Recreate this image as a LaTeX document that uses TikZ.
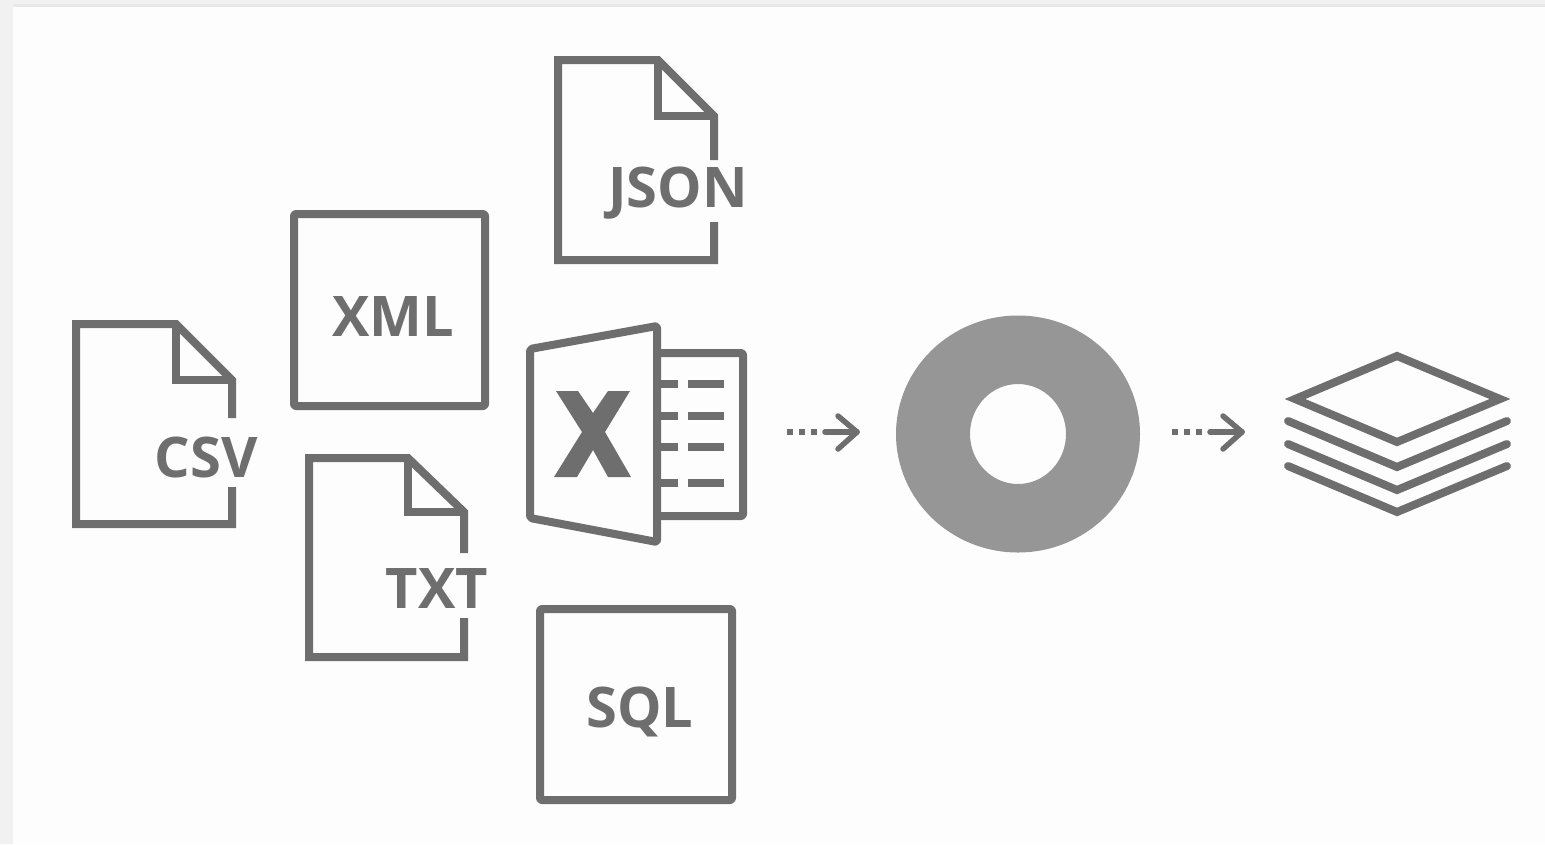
\documentclass[tikz,border=0pt]{standalone}
\usepackage{fontspec}
\setmainfont{Open Sans}
\definecolor{ink}{HTML}{6E6E6E}
\definecolor{ring}{HTML}{969696}
\definecolor{paper}{HTML}{FDFDFD}
\definecolor{edge}{HTML}{F1F1F1}
\tikzset{
  icon/.style={draw=ink,line width=8pt,line join=miter,miter limit=3,fill=none},
  sheet/.style={draw=ink,line width=8pt,line join=round,rounded corners=2pt},
  stackline/.style={draw=ink,line width=8pt,line join=miter,miter limit=4,line cap=round},
  rowdash/.style={draw=ink,line width=8pt},
  label/.style={text=ink,font=\bfseries\fontsize{56}{56}\selectfont,inner sep=0pt,draw=none},
  shaft/.style={draw=ink,line width=5.5pt,line cap=round,line join=round},
  dotmark/.style={fill=ink,draw=none,minimum size=6pt,inner sep=0pt,shape=rectangle},
}
\begin{document}
\begin{tikzpicture}[x=1pt,y=-1pt]
\useasboundingbox (0,0) rectangle (1545,844);
\fill[edge] (0,0) rectangle (1545,844);
\fill[paper] (13,7) rectangle (1545,844);
\fill[black!9] (13,4) rectangle (1545,7);
% CSV document
\draw[icon] (232,418) -- (232,380) -- (176,324) -- (76,324) -- (76,524) -- (232,524) -- (232,487);
\draw[icon] (176,324) -- (176,380) -- (232,380);
\node[label] (csv) at (206,457) {CSV};
% JSON document
\draw[icon] (714,160) -- (714,116) -- (658,60) -- (558,60) -- (558,260) -- (714,260) -- (714,222);
\draw[icon] (658,60) -- (658,116) -- (714,116);
\node[label] (json) at (678,193) {JSON};
% TXT document
\draw[icon] (464,553) -- (464,512) -- (408,458) -- (309,458) -- (309,657) -- (464,657) -- (464,618);
\draw[icon] (408,458) -- (408,512) -- (464,512);
\node[label] (txt) at (437,589) {TXT};
% XML and SQL boxes
\draw[sheet] (294,214) rectangle (485,406);
\node[label] (xml) at (393,317) {XML};
\draw[sheet] (540,609) rectangle (732,800);
\node[label] (sql) at (640,712) {SQL};
% Excel
\draw[sheet] (657,353) -- (743,353) -- (743,516) -- (657,516);
\draw[sheet] (530,349) -- (657,326) -- (657,542) -- (530,518) -- cycle;
\foreach \y in {384,416,447,483} {
  \draw[rowdash] (657,\y) -- (678,\y);
  \draw[rowdash] (688,\y) -- (724,\y);
}
\fill[ink] (556,391) -- (578,391) -- (593,413) -- (608,391) -- (630,391) -- (605,432) -- (631,477) -- (608,477) -- (593,450) -- (577,477) -- (554,477) -- (582,432) -- cycle;
% Arrow one
\node[dotmark] (a1) at (790,432) {};
\node[dotmark] (a2) at (802,432) {};
\node[dotmark] (a3) at (814,432) {};
\coordinate (a4) at (825,432);
\coordinate (a5) at (857,432);
\draw[shaft] (a4) -- (a5);
\draw[shaft] (838,416) -- (a5) -- (838,449);
% Donut
\fill[ring,even odd rule] (1018,434) ellipse [x radius=122,y radius=118.5] (1018,434) ellipse [x radius=48,y radius=50];
% Arrow two
\node[dotmark] (b1) at (1175,432) {};
\node[dotmark] (b2) at (1187,432) {};
\node[dotmark] (b3) at (1199,432) {};
\coordinate (b4) at (1210,432);
\coordinate (b5) at (1242,432);
\draw[shaft] (b4) -- (b5);
\draw[shaft] (1223,416) -- (b5) -- (1223,449);
% Stack
\draw[stackline] (1295,399) -- (1397,356) -- (1500,399) -- (1397,442) -- cycle;
\draw[stackline] (1288,421) -- (1397,467) -- (1507,421);
\draw[stackline] (1288,444) -- (1397,490) -- (1507,444);
\draw[stackline] (1288,466) -- (1397,512) -- (1507,466);
\end{tikzpicture}
\end{document}
